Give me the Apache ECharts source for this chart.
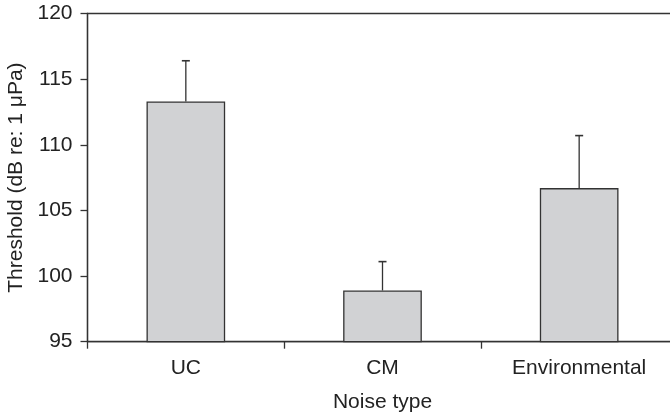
<!DOCTYPE html>
<html>
<head>
<meta charset="utf-8">
<script src="https://cdn.jsdelivr.net/npm/echarts@6/dist/echarts.min.js"></script>
<style>html,body{margin:0;padding:0;background:#fff}#c{width:670px;height:414px}</style>
</head>
<body>
<div id="c"></div>
<script>
var categories = ['UC', 'CM', 'Environmental'];
var means = [113.3, 98.9, 106.7];
var upperErr = [116.4, 101.1, 110.7];
var yTicks = [95, 100, 105, 110, 115, 120];

var chart = echarts.init(document.getElementById('c'), null, {renderer: 'canvas'});
var font = 'Liberation Sans';
var txt = '#222';
var fs = 21;
var errData = categories.map(function (c, i) { return [i, means[i], upperErr[i]]; });

chart.setOption({
  animation: false,
  grid: {left: 87.5, top: 13.5, bottom: 72.3, width: 590, outerBoundsMode: 'none', containLabel: false,
         show: true, borderColor: '#333', borderWidth: 1.3, backgroundColor: 'transparent'},
  xAxis: {
    type: 'category', data: categories,
    name: 'Noise type', nameLocation: 'middle', nameGap: 50,
    nameTextStyle: {fontFamily: font, fontSize: fs, color: txt},
    axisLine: {lineStyle: {color: '#333', width: 1.3}},
    axisTick: {show: true, length: 7, inside: false, lineStyle: {color: '#333', width: 1.3}},
    axisLabel: {fontFamily: font, fontSize: fs, color: txt, margin: 16}
  },
  yAxis: {
    type: 'value', min: yTicks[0], max: yTicks[yTicks.length - 1], interval: 5,
    name: 'Threshold (dB re: 1 μPa)', nameLocation: 'middle', nameGap: 60, nameRotate: 90,
    nameTextStyle: {fontFamily: font, fontSize: fs, color: txt},
    axisLine: {show: true, lineStyle: {color: '#333', width: 1.3}},
    axisTick: {show: true, length: 7, lineStyle: {color: '#333', width: 1.3}},
    axisLabel: {fontFamily: font, fontSize: fs, color: txt, margin: 15},
    splitLine: {show: false}
  },
  series: [
    {
      type: 'bar', data: means, barWidth: '40%',
      itemStyle: {color: '#d1d2d4', borderColor: '#333', borderWidth: 1.3},
      z: 2
    },
    {
      type: 'custom', data: errData, z: 3,
      renderItem: function (params, api) {
        var x = api.value(0);
        var p0 = api.coord([x, api.value(1)]);
        var p1 = api.coord([x, api.value(2)]);
        var cap = 4;
        return {
          type: 'group',
          children: [
            {type: 'line', shape: {x1: p0[0], y1: p0[1], x2: p1[0], y2: p1[1]}, style: {stroke: '#333', lineWidth: 1.3}},
            {type: 'line', shape: {x1: p1[0] - cap, y1: p1[1], x2: p1[0] + cap, y2: p1[1]}, style: {stroke: '#333', lineWidth: 1.6}}
          ]
        };
      }
    }
  ]
});
</script>
</body>
</html>
